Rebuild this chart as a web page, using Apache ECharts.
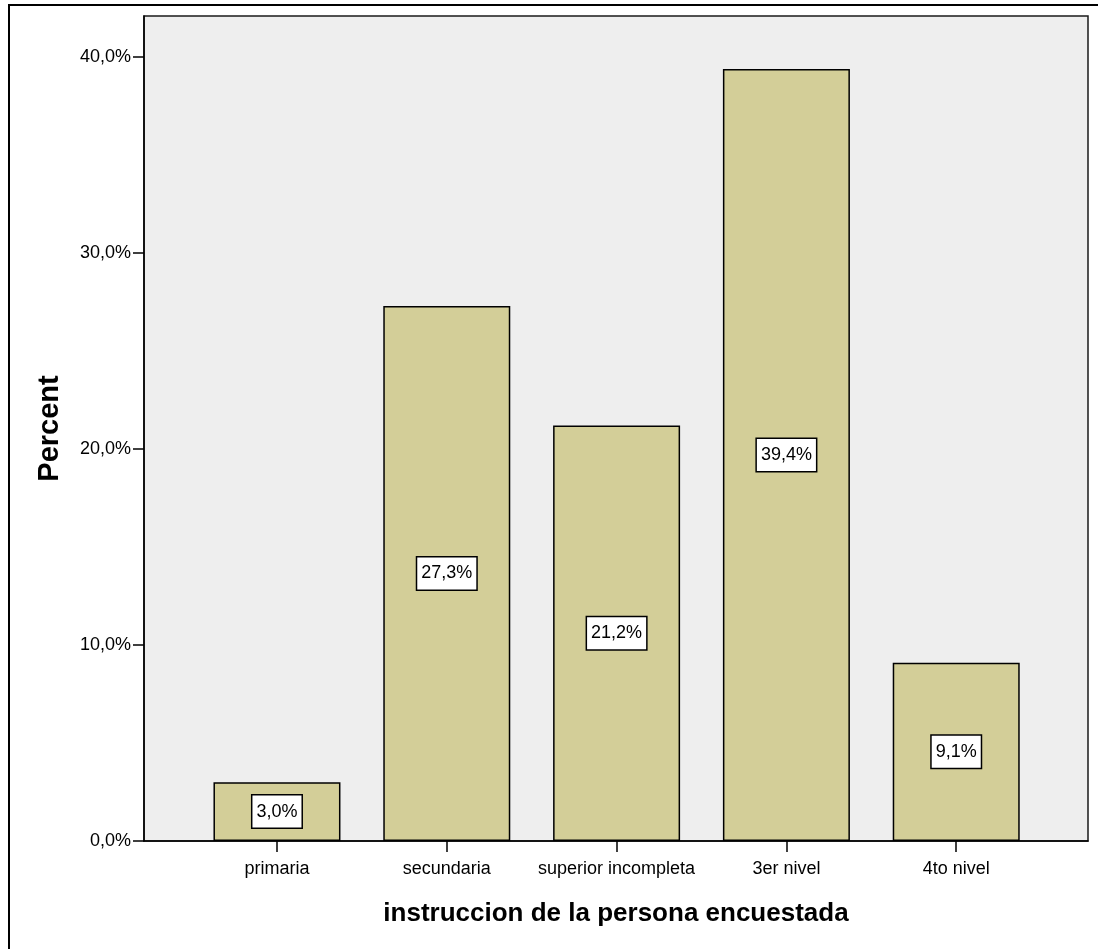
<!DOCTYPE html>
<html>
<head>
<meta charset="utf-8">
<style>
  html, body { margin: 0; padding: 0; background: #ffffff; }
  #chart { width: 1098px; height: 949px; }
</style>
<script src="https://cdn.jsdelivr.net/npm/echarts@6/dist/echarts.min.js"></script>
</head>
<body>
<div id="chart"></div>
<script>
// Education level of the respondent (percent of respondents)
const categories = ['primaria', 'secundaria', 'superior incompleta', '3er nivel', '4to nivel'];
const percents = [3.0, 27.3, 21.2, 39.4, 9.1];
const yTicks = [0, 10, 20, 30, 40];

const FONT = '"Liberation Sans", Arial, Helvetica, sans-serif';
const fmtPct = v => v.toFixed(1).replace('.', ',') + '%';
const catIndex = categories.map((_, i) => i);

const chart = echarts.init(document.getElementById('chart'), null, { renderer: 'canvas' });

chart.setOption({
  animation: false,
  backgroundColor: '#ffffff',
  textStyle: { fontFamily: FONT },
  graphic: [{
    type: 'rect',
    silent: true,
    z: 100,
    shape: { x: 9, y: 5, width: 1300, height: 1300 },
    style: { fill: 'none', stroke: '#000000', lineWidth: 2 }
  }],
  grid: {
    left: 144, right: 10, top: 16, bottom: 108,
    show: true,
    backgroundColor: '#eeeeee',
    borderColor: '#1a1a1a',
    borderWidth: 1.5
  },
  xAxis: {
    type: 'value',
    min: -0.783,
    max: 4.776,
    splitLine: { show: false },
    axisLine: { show: true, onZero: false, lineStyle: { color: '#000000', width: 1.5 } },
    axisTick: {
      show: true, inside: false, length: 11,
      customValues: catIndex,
      lineStyle: { color: '#000000', width: 1.5 }
    },
    axisLabel: {
      customValues: catIndex,
      formatter: v => categories[Math.round(v)],
      color: '#000000',
      fontSize: 18,
      fontFamily: FONT,
      margin: 19
    },
    name: 'instruccion de la persona encuestada',
    nameLocation: 'middle',
    nameGap: 60,
    nameTextStyle: { fontSize: 26, fontWeight: 'bold', color: '#000000', fontFamily: FONT }
  },
  yAxis: {
    type: 'value',
    min: 0,
    max: 42.1,
    splitLine: { show: false },
    axisLine: { show: true, onZero: false, lineStyle: { color: '#000000', width: 1.5 } },
    axisTick: {
      show: true, inside: false, length: 11,
      customValues: yTicks,
      lineStyle: { color: '#000000', width: 1.5 }
    },
    axisLabel: {
      customValues: yTicks,
      formatter: v => fmtPct(v),
      color: '#000000',
      fontSize: 18,
      fontFamily: FONT,
      margin: 13
    },
    name: 'Percent',
    nameLocation: 'middle',
    nameGap: 80,
    nameRotate: 90,
    nameTextStyle: { fontSize: 29, fontWeight: 'bold', color: '#000000', fontFamily: FONT }
  },
  series: [{
    type: 'bar',
    barWidth: 127,
    data: percents.map((v, i) => [i, v]),
    itemStyle: { color: '#d3ce98', borderColor: '#000000', borderWidth: 1.5 },
    label: {
      show: true,
      position: 'inside',
      formatter: p => fmtPct(p.value[1]),
      color: '#000000',
      fontSize: 18,
      fontFamily: FONT,
      lineHeight: 20,
      backgroundColor: '#ffffff',
      borderColor: '#000000',
      borderWidth: 1.5,
      padding: [6, 4, 6, 4]
    }
  }]
});
</script>
</body>
</html>
